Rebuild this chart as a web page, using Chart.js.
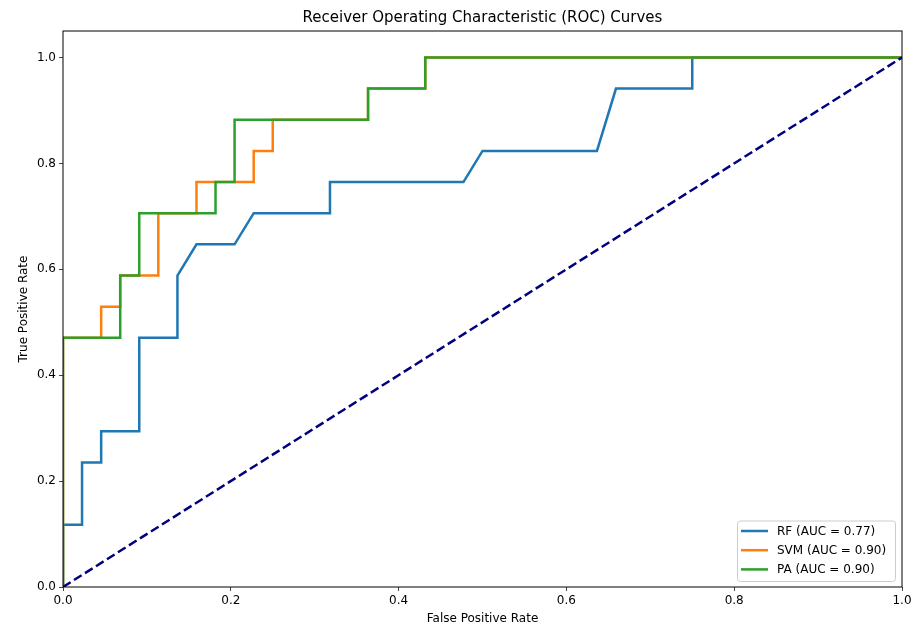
<!DOCTYPE html>
<html>
<head>
<meta charset="utf-8">
<script src="https://cdn.jsdelivr.net/npm/chart.js@4.4.1/dist/chart.umd.min.js"></script>
<style>
body { margin: 0; background: #fff; }
#wrap { width: 915px; height: 628px; position: relative; }
</style>
</head>
<body>
<div id="wrap"><canvas id="roc"></canvas></div>
<script>
// corner points of each ROC curve (false positive rate, true positive rate)
const rfFpr = [0, 0, 0.0227, 0.0227, 0.0455, 0.0455, 0.0909, 0.0909, 0.1364, 0.1364, 0.1591, 0.2045, 0.2273, 0.3182, 0.3182, 0.4773, 0.5, 0.6364, 0.6591, 0.75, 0.75, 1]
const rfTpr = [0, 0.1176, 0.1176, 0.2353, 0.2353, 0.2941, 0.2941, 0.4706, 0.4706, 0.5882, 0.6471, 0.6471, 0.7059, 0.7059, 0.7647, 0.7647, 0.8235, 0.8235, 0.9412, 0.9412, 1, 1]

const svmFpr = [0, 0, 0.0455, 0.0455, 0.0682, 0.0682, 0.1136, 0.1136, 0.1591, 0.1591, 0.2273, 0.2273, 0.25, 0.25, 0.3636, 0.3636, 0.4318, 0.4318, 1]
const svmTpr = [0, 0.4706, 0.4706, 0.5294, 0.5294, 0.5882, 0.5882, 0.7059, 0.7059, 0.7647, 0.7647, 0.8235, 0.8235, 0.8824, 0.8824, 0.9412, 0.9412, 1, 1]

const paFpr = [0, 0, 0.0682, 0.0682, 0.0909, 0.0909, 0.1818, 0.1818, 0.2045, 0.2045, 0.3636, 0.3636, 0.4318, 0.4318, 1]
const paTpr = [0, 0.4706, 0.4706, 0.5882, 0.5882, 0.7059, 0.7059, 0.7647, 0.7647, 0.8824, 0.8824, 0.9412, 0.9412, 1, 1]

const chanceFpr = [0, 1]
const chanceTpr = [0, 1]

const seriesLabels = ['RF (AUC = 0.77)', 'SVM (AUC = 0.90)', 'PA (AUC = 0.90)']
const xTicks = [0, 0.2, 0.4, 0.6, 0.8, 1.0]
const yTicks = [0, 0.2, 0.4, 0.6, 0.8, 1.0]

function pts(xs, ys) {
    return xs.map((x, i) => ({ x: x, y: ys[i] }))
}

Chart.defaults.font.family = '"DejaVu Sans", sans-serif'
Chart.defaults.color = '#000'

// axes frame on all four sides + legend box inside the plot, like matplotlib
const framePlugin = {
    id: 'frame',
    afterDatasetsDraw(chart) {
        const ctx = chart.ctx
        const a = chart.chartArea
        ctx.save()
        ctx.strokeStyle = '#000'
        ctx.lineWidth = 1
        ctx.strokeRect(Math.round(a.left), Math.round(a.top), Math.round(a.right - a.left), Math.round(a.bottom - a.top))

        const items = chart.data.datasets.filter(d => d.label)
        const w = 158, rowH = 19.2, h = 60.5
        const bx = a.right - 7 - w, by = a.bottom - 6 - h
        ctx.beginPath()
        ctx.roundRect(bx + 0.5, by + 0.5, w, h, 3)
        ctx.fillStyle = 'rgba(255,255,255,0.8)'
        ctx.fill()
        ctx.strokeStyle = '#cccccc'
        ctx.stroke()

        ctx.font = '12px "DejaVu Sans", sans-serif'
        ctx.textBaseline = 'middle'
        items.forEach((d, i) => {
            const yy = by + 10.5 + i * rowH
            ctx.beginPath()
            ctx.moveTo(bx + 4, yy)
            ctx.lineTo(bx + 31, yy)
            ctx.strokeStyle = d.borderColor
            ctx.lineWidth = 2.5
            ctx.stroke()
            ctx.fillStyle = '#000'
            ctx.fillText(d.label, bx + 40, yy + 0.5)
        })
        ctx.restore()
    }
}

const line = (label, data, color, order) => ({
    label: label,
    data: data,
    borderColor: color,
    backgroundColor: color,
    borderWidth: 2.5,
    pointRadius: 0,
    showLine: true,
    tension: 0,
    fill: false,
    order: order
})

const chance = line('', pts(chanceFpr, chanceTpr), '#000080', 0)
chance.borderDash = [9, 4]

new Chart(document.getElementById('roc'), {
    type: 'scatter',
    data: {
        datasets: [
            line(seriesLabels[0], pts(rfFpr, rfTpr), '#1f77b4', 3),
            line(seriesLabels[1], pts(svmFpr, svmTpr), '#ff7f0e', 2),
            line(seriesLabels[2], pts(paFpr, paTpr), '#2ca02c', 1),
            chance
        ]
    },
    options: {
        responsive: true,
        maintainAspectRatio: false,
        animation: false,
        layout: { padding: { left: 0, right: 13, top: 0, bottom: 0 } },
        plugins: {
            legend: { display: false },
            tooltip: { enabled: false },
            title: {
                display: true,
                fullSize: false,
                text: 'Receiver Operating Characteristic (ROC) Curves',
                font: { size: 15, weight: 'normal' },
                color: '#000',
                padding: { top: 9, bottom: 4 }
            }
        },
        scales: {
            x: {
                type: 'linear',
                min: 0,
                max: 1,
                afterBuildTicks: s => { s.ticks = xTicks.map(v => ({ value: v })) },
                afterFit: s => { s.height = 41 },
                ticks: { callback: v => v.toFixed(1), maxRotation: 0, autoSkip: false, padding: 3, font: { size: 12 }, color: '#000' },
                grid: { drawOnChartArea: false, drawTicks: true, tickLength: 4, color: '#444' },
                border: { display: false },
                title: { display: true, text: 'False Positive Rate', font: { size: 12 }, padding: { top: 0, bottom: 2 } }
            },
            y: {
                type: 'linear',
                min: 0,
                max: 1.05,
                afterBuildTicks: s => { s.ticks = yTicks.map(v => ({ value: v })) },
                afterFit: s => { s.width = 63 },
                ticks: { callback: v => v.toFixed(1), autoSkip: false, padding: 3, font: { size: 12 }, color: '#000' },
                grid: { drawOnChartArea: false, drawTicks: true, tickLength: 4, color: '#444' },
                border: { display: false },
                title: { display: true, text: 'True Positive Rate', font: { size: 12 }, padding: { top: 17, bottom: 0 } }
            }
        }
    },
    plugins: [framePlugin]
})
</script>
</body>
</html>
